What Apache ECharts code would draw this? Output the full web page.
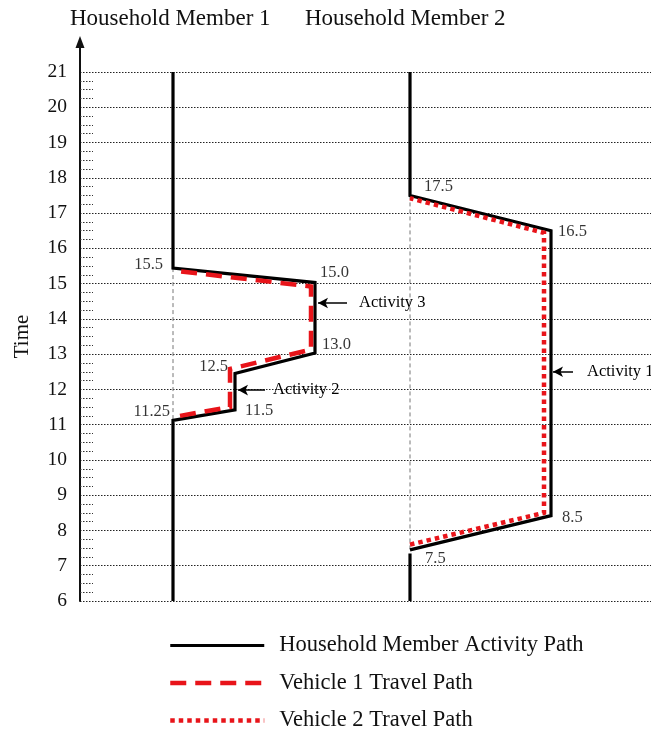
<!DOCTYPE html>
<html><head><meta charset="utf-8">
<script src="https://cdn.jsdelivr.net/npm/echarts@6/dist/echarts.min.js"></script>
<style>html,body{margin:0;padding:0;background:#fff}#c{width:651px;height:733px}</style>
</head><body><div id="c"></div>
<script>
// ---------------- DATA ----------------
const headers = ['Household Member 1', 'Household Member 2'];
const timeTicks = [6, 21];           // time axis range (hours)
const legendNames = ['Household Member Activity Path', 'Vehicle 1 Travel Path', 'Vehicle 2 Travel Path'];

// schematic horizontal positions (track units)
const member1PathX = [93, 93, 155, 155, 235, 235, 93, 93];
const member1PathT = [6, 11.12, 11.42, 12.45, 13.03, 15.03, 15.44, 21];

const member2PathX = [330, 330, 471, 471, 330];
const member2PathT = [21, 17.5, 16.5, 8.42, 7.45];
const member2TailX = [330, 330];
const member2TailT = [7.35, 6];

const vehicle1X = [100, 150, 150, 231, 231, 93];
const vehicle1T = [11.25, 11.5, 12.58, 13.13, 14.92, 15.37];

const vehicle2X = [330, 464, 464, 330];
const vehicle2T = [7.6, 8.5, 16.44, 17.42];

const guide1X = [93, 93];   const guide1T = [15.44, 11.12];
const guide2X = [330, 330]; const guide2T = [17.5, 7.45];

const pointLabels = ['11.25', '11.5', '12.5', '13.0', '15.0', '15.5', '17.5', '16.5', '8.5', '7.5'];
const pointLabelX = [93, 155, 155, 235, 235, 93, 330, 471, 471, 330];
const pointLabelT = [11.12, 11.42, 12.45, 13.03, 15.03, 15.44, 17.5, 16.5, 8.42, 7.45];

const activityNames = ['Activity 1', 'Activity 2', 'Activity 3'];
const activityT = [12.5, 11.98, 14.45];
const arrowFromX = [493, 185, 267];
const arrowToX = [473, 158, 238];

// ---------------- STYLE ----------------
const FONT = '"Liberation Serif","Times New Roman",serif';
const labelPlace = [
  {position: 'left', distance: 3, offset: [0, -9]},
  {position: 'right', distance: 10, offset: [0, 1]},
  {position: 'left', distance: 7, offset: [0, -7]},
  {position: 'right', distance: 7, offset: [0, -8]},
  {position: 'right', distance: 5, offset: [0, -10]},
  {position: 'left', distance: 10, offset: [0, -3]},
  {position: 'right', distance: 14, offset: [0, -9]},
  {position: 'right', distance: 7, offset: [0, 1]},
  {position: 'right', distance: 11, offset: [0, 2]},
  {position: 'right', distance: 15, offset: [0, 9]}
];
const arrowLabelDistance = [14, 8, 12];

const zip = (xs, ts) => xs.map((x, i) => [x, ts[i]]);

const lineBase = {type: 'line', showSymbol: false, symbol: 'none', animation: false, silent: true};

const chart = echarts.init(document.getElementById('c'), null, {renderer: 'canvas'});
const option = {
  backgroundColor: '#fff',
  animation: false,
  title: [
    {text: headers[0], left: 70, top: 7, padding: 0, textStyle: {fontFamily: FONT, fontSize: 23, fontWeight: 'normal', color: '#111'}},
    {text: headers[1], left: 305, top: 7, padding: 0, textStyle: {fontFamily: FONT, fontSize: 23, fontWeight: 'normal', color: '#111'}}
  ],
  grid: {left: 80, right: 0, top: 72, bottom: 132, containLabel: false},
  xAxis: {type: 'value', min: 0, max: 571, show: false},
  yAxis: {
    type: 'value', min: timeTicks[0], max: timeTicks[1], interval: 1,
    name: 'Time', nameLocation: 'middle', nameGap: 47, nameRotate: 90,
    nameTextStyle: {fontFamily: FONT, fontSize: 21, color: '#111'},
    axisLine: {show: true, lineStyle: {color: '#111', width: 2}},
    axisTick: {show: false, inside: true},
    minorTick: {show: true, splitNumber: 4, length: 13, lineStyle: {color: '#333', width: 1, type: [1.5, 1.5]}},
    axisLabel: {fontFamily: FONT, fontSize: 19.5, color: '#111', margin: 13},
    splitLine: {show: true, lineStyle: {color: '#222', width: 1, type: [1.5, 1.5]}}
  },
  legend: {
    left: 168, top: 634, padding: 0, orient: 'vertical', itemWidth: 94, itemHeight: 26, itemGap: 14.5,
    selectedMode: false, data: legendNames,
    itemStyle: {opacity: 0},
    lineStyle: {width: 'inherit'},
    textStyle: {fontFamily: FONT, fontSize: 22.5, color: '#111', padding: [0, 0, 0, 10]}
  },
  series: [
    Object.assign({}, lineBase, {name: 'guide1', data: zip(guide1X, guide1T), lineStyle: {color: '#777', width: 1, type: [4, 3]}, z: 1}),
    Object.assign({}, lineBase, {name: 'guide2', data: zip(guide2X, guide2T), lineStyle: {color: '#777', width: 1, type: [4, 3]}, z: 1}),
    Object.assign({}, lineBase, {name: legendNames[0], data: zip(member1PathX, member1PathT), lineStyle: {color: '#000', width: 3.2, join: 'miter'}, z: 2}),
    Object.assign({}, lineBase, {name: legendNames[0], data: zip(member2PathX, member2PathT), lineStyle: {color: '#000', width: 3.2, join: 'miter'}, z: 2}),
    Object.assign({}, lineBase, {name: legendNames[0], data: zip(member2TailX, member2TailT), lineStyle: {color: '#000', width: 3.2}, z: 2}),
    Object.assign({}, lineBase, {name: legendNames[1], data: zip(vehicle1X, vehicle1T), lineStyle: {color: '#e8141a', width: 4.5, type: [16, 9], cap: 'butt', join: 'miter'}, z: 3}),
    Object.assign({}, lineBase, {name: legendNames[2], data: zip(vehicle2X, vehicle2T), lineStyle: {color: '#e8141a', width: 4.5, type: [4.5, 4], cap: 'butt', join: 'miter'}, z: 3}),
    {
      type: 'scatter', name: 'pointLabels', symbolSize: 0, silent: true, animation: false, z: 5,
      data: pointLabels.map((t, i) => ({
        value: [pointLabelX[i], pointLabelT[i]],
        label: Object.assign({show: true, formatter: t, fontFamily: FONT, fontSize: 16.5, color: '#000'}, labelPlace[i])
      }))
    },
    {
      type: 'line', name: 'arrows', data: [], silent: true, animation: false,
      markLine: {
        silent: true, animation: false, symbol: ['none', 'arrow'], symbolSize: [8, 10],
        lineStyle: {color: '#000', width: 1.5, type: 'solid'},
        label: {show: true, position: 'start', fontFamily: FONT, fontSize: 16.5, color: '#000'},
        data: activityNames.map((n, i) => [
          {coord: [arrowFromX[i], activityT[i]], name: n, label: {formatter: n, distance: arrowLabelDistance[i]}},
          {coord: [arrowToX[i], activityT[i]]}
        ])
      }
    }
  ]
};
chart.setOption(option);

// y-axis extension with arrowhead, positioned from the axis scale
const top21 = chart.convertToPixel({gridIndex: 0}, [0, timeTicks[1]]);
chart.setOption({
  graphic: [
    {type: 'line', shape: {x1: top21[0], y1: top21[1], x2: top21[0], y2: top21[1] - 26}, style: {stroke: '#111', lineWidth: 2}, silent: true},
    {type: 'polygon', shape: {points: [[top21[0], top21[1] - 36], [top21[0] - 4.5, top21[1] - 24], [top21[0] + 4.5, top21[1] - 24]]}, style: {fill: '#111'}, silent: true}
  ]
});
</script>
</body></html>
